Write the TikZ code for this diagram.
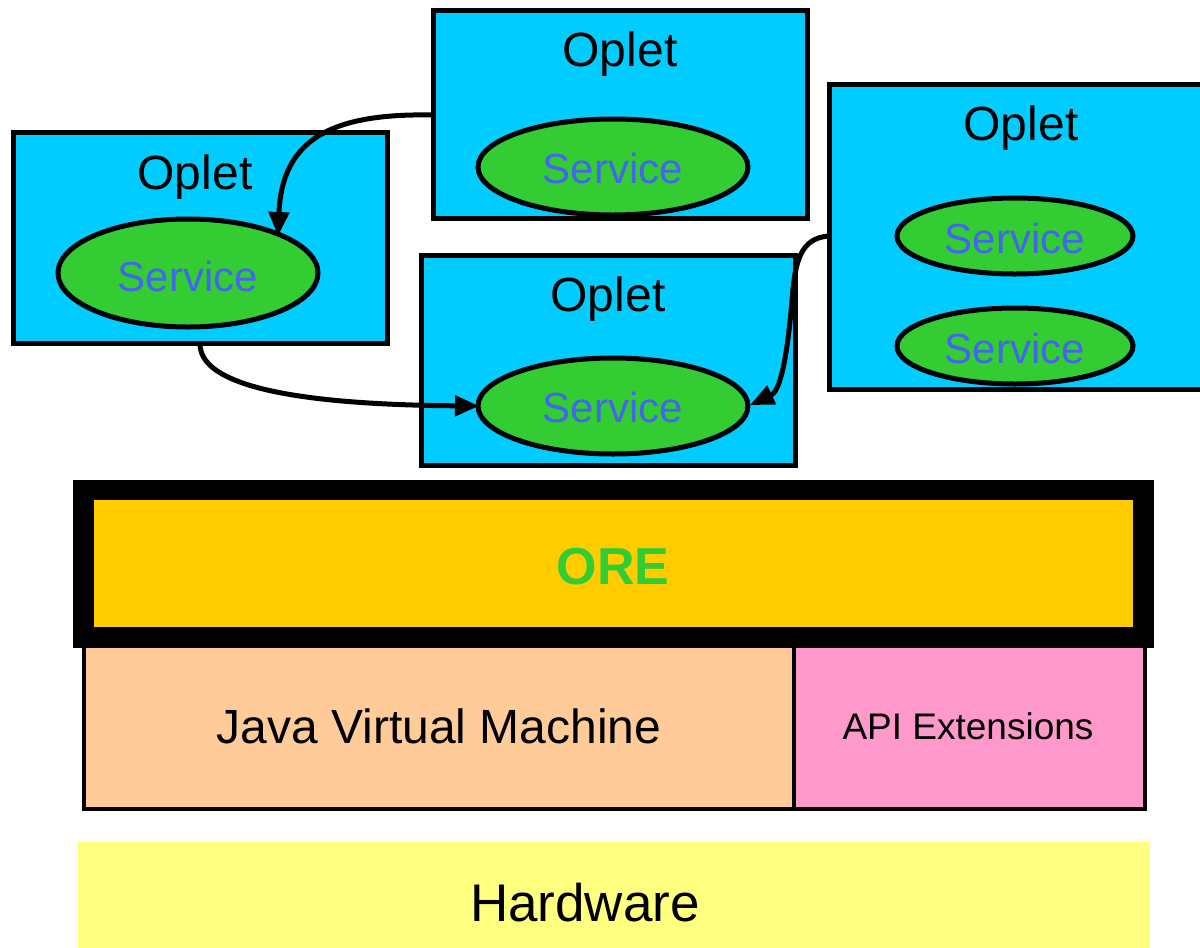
\documentclass[tikz,border=0pt]{standalone}
\usepackage{fontspec}
\setmainfont{Liberation Sans}
\usetikzlibrary{arrows.meta}
\definecolor{opletcyan}{HTML}{00CCFF}
\definecolor{servgreen}{HTML}{33CC33}
\definecolor{servtext}{HTML}{4466EE}
\definecolor{oreyellow}{HTML}{FFCC00}
\definecolor{jvmpeach}{HTML}{FFCC99}
\definecolor{apipink}{HTML}{FF99CC}
\definecolor{hwyellow}{HTML}{FFFF80}
\tikzset{
  opletbox/.style={draw=black, line width=5pt, fill=opletcyan},
  servell/.style={draw=black, line width=5pt, fill=servgreen},
  opletlabel/.style={font=\fontsize{48}{52}\selectfont, text=black, inner sep=0pt},
  servlabel/.style={font=\fontsize{42}{46}\selectfont, text=servtext, inner sep=0pt},
  conn/.style={draw=black, line width=5pt, -{Triangle[length=24pt,width=20pt]}},
}
\begin{document}
\begin{tikzpicture}[x=1pt,y=-1pt]
\useasboundingbox (0,0) rectangle (1200,948);
\clip (0,0) rectangle (1200,948);
% Hardware
\fill[hwyellow] (78,842) rectangle (1150,948);
\node[inner sep=0pt, font=\fontsize{53}{57}\selectfont] (hw) at (585,903) {Hardware};
% JVM and API
\draw[line width=4pt, fill=jvmpeach] (84,645) rectangle (794,809);
\draw[line width=4pt, fill=apipink] (794,645) rectangle (1145,809);
\node[inner sep=0pt, font=\fontsize{48}{52}\selectfont] (jvm) at (439,726) {Java Virtual Machine};
\node[inner sep=0pt, font=\fontsize{37}{40}\selectfont] (api) at (968,726) {API Extensions};
% ORE
\fill[black] (73,480) rectangle (1154,648);
\fill[oreyellow] (94,500) rectangle (1133,627);
\node[inner sep=0pt, font=\fontsize{52}{56}\selectfont\bfseries, text=servgreen] (ore) at (613,567) {ORE};
% Oplet boxes
\draw[opletbox] (433,10) rectangle (807,218);
\node[opletlabel] (t1) at (620,54) {Oplet};
\draw[servell] (613,167) ellipse [x radius=135, y radius=48];
\node[servlabel] (s1) at (613,168) {Service};

\draw[opletbox] (13,132) rectangle (387,343);
\node[opletlabel] (t2) at (195,177) {Oplet};
\draw[servell] (188,273) ellipse [x radius=130, y radius=54];
\node[servlabel] (s2) at (188,276) {Service};

\draw[opletbox] (421,255) rectangle (795,465);
\node[opletlabel] (t3) at (608,299) {Oplet};
\draw[servell] (613,406) ellipse [x radius=135, y radius=48];
\node[servlabel] (s3) at (613,407) {Service};

\draw[opletbox] (829,84) rectangle (1210,389);
\node[opletlabel] (t4) at (1021,128) {Oplet};
\draw[servell] (1015,236) ellipse [x radius=118, y radius=38];
\node[servlabel] (s4) at (1015,238) {Service};
\draw[servell] (1015,346) ellipse [x radius=118, y radius=38];
\node[servlabel] (s5) at (1015,348) {Service};

% connectors
\coordinate (a1s) at (433,115);
\coordinate (a1e) at (278,236);
\draw[conn] (a1s) .. controls (330,113) and (282,140) .. (a1e);
\coordinate (a2s) at (200,343);
\coordinate (a2e) at (479,406);
\draw[conn] (a2s) .. controls (198,398) and (360,405) .. (a2e);
\coordinate (a3s) at (829,236);
\coordinate (a3m) at (792,300);
\coordinate (a3e) at (750,405);
\draw[conn] (a3s) .. controls (800,238) and (795,262) .. (a3m) .. controls (786,372) and (778,392) .. (a3e);
\end{tikzpicture}
\end{document}
